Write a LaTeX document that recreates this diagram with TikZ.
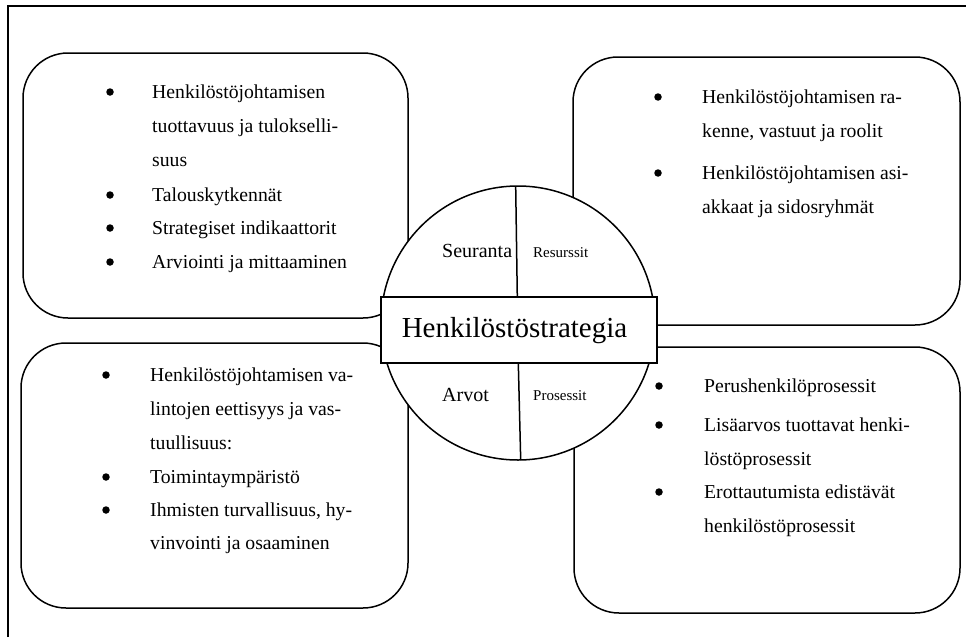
\documentclass[tikz,border=0pt]{standalone}
\usepackage{fontspec}
\setmainfont{Liberation Serif}
\begin{document}
\begin{tikzpicture}[x=1pt,y=-1pt,
  frameline/.style={line width=1.3pt},
  box/.style={draw, line width=1.5pt, rounded corners=45pt, fill=white, inner sep=0pt, outer sep=0pt},
  ring/.style={draw, circle, line width=1.5pt, fill=white, inner sep=0pt, outer sep=0pt},
  divider/.style={line width=1.5pt},
  titlebox/.style={draw, line width=1.5pt, fill=white, inner sep=0pt, outer sep=0pt},
  txt/.style={font=\fontsize{19.7}{24}\selectfont, inner sep=0pt, anchor=base west},
  big/.style={font=\fontsize{20}{24}\selectfont, inner sep=0pt, anchor=base west},
  small/.style={font=\fontsize{15}{18}\selectfont, inner sep=0pt, anchor=base west},
  title/.style={font=\fontsize{29}{34}\selectfont, inner sep=0pt, anchor=base},
  bul/.style={circle, fill=black, inner sep=0pt, minimum size=7.5pt}]
\useasboundingbox (0,0) rectangle (966,637);
% outer frame (cropped at right and bottom)
\coordinate (fa) at (8,637);
\coordinate (fb) at (8,6);
\coordinate (fc) at (966,6);
\draw[frameline] (fa) -- (fb) -- (fc);
% four boxes
\node[box, minimum width=385pt, minimum height=265pt] (tl) at (215.5,185.5) {};
\node[box, minimum width=387pt, minimum height=268pt] (tr) at (766.5,191) {};
\node[box, minimum width=387pt, minimum height=265pt] (bl) at (214.5,475.5) {};
\node[box, minimum width=386pt, minimum height=266pt] (br) at (767,480) {};
% circle
\node[ring, minimum size=274pt] (circ) at (518,323) {};
\coordinate (d1) at (515.7,187);
\coordinate (d2) at (517.3,297);
\coordinate (d3) at (518.3,363);
\coordinate (d4) at (520.7,460);
\draw[divider] (d1) -- (d2);
\draw[divider] (d3) -- (d4);
% central rectangle
\node[titlebox, minimum width=276pt, minimum height=66pt] (strat) at (519,330) {};
\node[title] (stext) at (514.5,337) {Henkilöstöstrategia};
% quadrant labels
\node[big] (q1) at (442,257) {Seuranta};
\node[small] (q2) at (533,257) {Resurssit};
\node[big] (q3) at (442,401) {Arvot};
\node[small] (q4) at (533,400) {Prosessit};
% top-left box text
\node[bul] (tlb1) at (110,92) {};
\node[txt] (tl1) at (152,98) {Henkilöstöjohtamisen};
\node[txt] (tl2) at (152,132) {tuottavuus ja tulokselli-};
\node[txt] (tl3) at (152,166) {suus};
\node[bul] (tlb2) at (110,195) {};
\node[txt] (tl4) at (152,201) {Talouskytkennät};
\node[bul] (tlb3) at (110,228) {};
\node[txt] (tl5) at (152,234) {Strategiset indikaattorit};
\node[bul] (tlb4) at (110,262) {};
\node[txt] (tl6) at (152,268) {Arviointi ja mittaaminen};
% top-right box text
\node[bul] (trb1) at (658,97) {};
\node[txt] (tr1) at (702,103) {Henkilöstöjohtamisen ra-};
\node[txt] (tr2) at (702,137) {kenne, vastuut ja roolit};
\node[bul] (trb2) at (658,173) {};
\node[txt] (tr3) at (702,179) {Henkilöstöjohtamisen asi-};
\node[txt] (tr4) at (702,213) {akkaat ja sidosryhmät};
% bottom-left box text
\node[bul] (blb1) at (106,375) {};
\node[txt] (bl1) at (150,381) {Henkilöstöjohtamisen va-};
\node[txt] (bl2) at (150,415) {lintojen eettisyys ja vas-};
\node[txt] (bl3) at (150,449) {tuullisuus:};
\node[bul] (blb2) at (106,477) {};
\node[txt] (bl4) at (150,483) {Toimintaympäristö};
\node[bul] (blb3) at (106,510) {};
\node[txt] (bl5) at (150,516) {Ihmisten turvallisuus, hy-};
\node[txt] (bl6) at (150,549) {vinvointi ja osaaminen};
% bottom-right box text
\node[bul] (brb1) at (659,386) {};
\node[txt] (br1) at (704,392) {Perushenkilöprosessit};
\node[bul] (brb2) at (659,425) {};
\node[txt] (br2) at (704,431) {Lisäarvos tuottavat henki-};
\node[txt] (br3) at (704,465) {löstöprosessit};
\node[bul] (brb3) at (659,492) {};
\node[txt] (br4) at (704,498) {Erottautumista edistävät};
\node[txt] (br5) at (704,532) {henkilöstöprosessit};
\end{tikzpicture}
\end{document}
